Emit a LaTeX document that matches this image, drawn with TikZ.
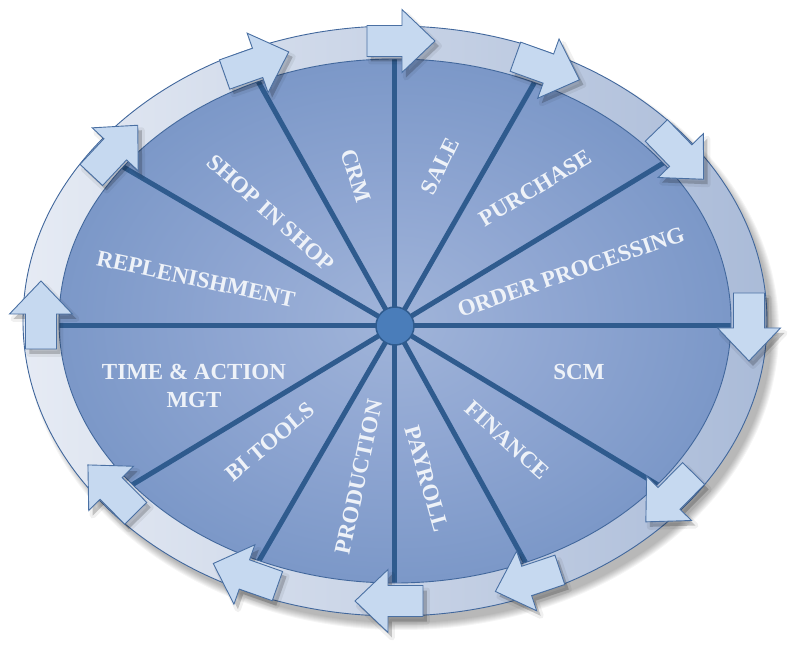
\documentclass[tikz,border=0pt]{standalone}
\usepackage{fontspec}
\setmainfont{Liberation Serif}
\definecolor{ringL}{HTML}{E6EBF4}
\definecolor{ringR}{HTML}{AABBD8}
\definecolor{ringEdge}{HTML}{41679C}
\definecolor{inC}{HTML}{A0B4D9}
\definecolor{inB}{HTML}{8FA6D2}
\definecolor{inM}{HTML}{6E8EC1}
\definecolor{inD}{HTML}{5476AC}
\definecolor{spokeC}{HTML}{2F5B8E}
\definecolor{hubF}{HTML}{4A7DBA}
\definecolor{arrF}{HTML}{C6D9F0}
\definecolor{arrE}{HTML}{4A70A3}
\definecolor{txtC}{HTML}{EEF2F8}
\pgfdeclareradialshading{innershade}{\pgfpoint{0bp}{0bp}}{color(0bp)=(inC); color(12bp)=(inB); color(34bp)=(inM); color(50bp)=(inD)}
\newcommand\wlab[5]{%
  \node[lbl,rotate=#4] (#1) at (#2,#3) {#5};}
\begin{document}
\begin{tikzpicture}[x=1pt,y=1pt,
  spokeline/.style={draw=spokeC,line width=5pt},
  ringline/.style={draw=ringEdge,line width=0.9pt},
  arrowbox/.style={fill=arrF,draw=arrE,line width=0.9pt,line join=miter},
  lbl/.style={text=txtC,font=\bfseries\fontsize{23}{28}\selectfont,align=center,inner sep=0pt}]
\useasboundingbox (-395,-332) rectangle (409,321);
% soft shadow of the wheel
\foreach \k in {1,...,8}{
  \fill[black,opacity=0.04] (7,-9) ellipse [x radius={(378-\k)*1pt}, y radius={(301-\k)*1pt}];
}
% inner disc
\shade[shading=innershade] (0,0) ellipse [x radius=336pt, y radius=262pt];
% spokes
\coordinate (hubc) at (0,-5);
\foreach \t [count=\i] in {0,37.5,65.5,90,114,143.5,180,218,246,270,293,322}{
  \coordinate (s\i) at ({340*cos(\t)},{266*sin(\t)-5*(cos(\t))^2});
  \draw[spokeline] (hubc) -- (s\i);
}
\node[circle,fill=hubF,draw=spokeC,line width=1.5pt,minimum size=38pt,inner sep=0pt] (hub) at (hubc) {};
% labels
\wlab{rep}{-199}{42}{-12}{REPLENISHMENT}
\wlab{sis}{-124}{108}{-42}{SHOP IN SHOP}
\wlab{crm}{-39}{145}{-72}{CRM}
\wlab{sale}{45}{155}{64}{SALE}
\wlab{pur}{140}{133}{31}{PURCHASE}
\wlab{ord}{176}{49}{19}{ORDER PROCESSING}
\wlab{scm}{184}{-51}{0}{SCM}
\wlab{fin}{112}{-119}{-42}{FINANCE}
\wlab{pay}{32}{-158}{-74}{PAYROLL}
\wlab{pro}{-36}{-156}{78}{PRODUCTION}
\wlab{bit}{-125}{-121}{40}{BI TOOLS}
\wlab{tam}{-201}{-65}{0}{TIME \& ACTION\\MGT}
% ring
\shade[even odd rule,left color=ringL,right color=ringR]
  (0,0) ellipse [x radius=372pt,y radius=295pt]
  (0,0) ellipse [x radius=336pt,y radius=262pt];
\draw[ringline] (0,0) ellipse [x radius=372pt,y radius=295pt];
\draw[ringline] (0,0) ellipse [x radius=336pt,y radius=262pt];
% arrows on the ring
\foreach \t in {0,37.5,65.5,90,114,143.5,180,218,246,270,293,322}{
  \pgfmathsetmacro\RAx{354*cos(\t)}
  \pgfmathsetmacro\RAy{280*sin(\t)}
  \pgfmathsetmacro\RAang{atan2(-280*cos(\t),354*sin(\t))}
  \begin{scope}[shift={({\RAx+4},{\RAy-5})},rotate=\RAang]
    \path[fill=black,draw=black,line width=6pt,line join=round,opacity=0.06]
      (-28,-15.5) -- (7,-15.5) -- (7,-31.5) -- (40,0) -- (7,31.5) -- (7,15.5) -- (-28,15.5) -- cycle;
    \fill[black,opacity=0.14]
      (-28,-15.5) -- (7,-15.5) -- (7,-31.5) -- (40,0) -- (7,31.5) -- (7,15.5) -- (-28,15.5) -- cycle;
  \end{scope}
  \begin{scope}[shift={(\RAx,\RAy)},rotate=\RAang]
    \path[arrowbox]
      (-28,-15.5) -- (7,-15.5) -- (7,-31.5) -- (40,0) -- (7,31.5) -- (7,15.5) -- (-28,15.5) -- cycle;
  \end{scope}
}
\end{tikzpicture}
\end{document}
